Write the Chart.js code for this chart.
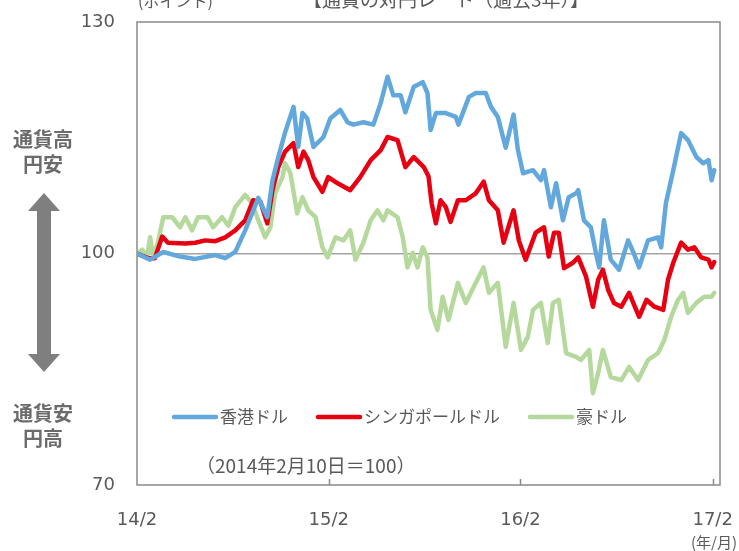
<!DOCTYPE html>
<html>
<head>
<meta charset="utf-8">
<script src="https://cdn.jsdelivr.net/npm/chart.js@4.4.0/dist/chart.umd.min.js"></script>
<style>
  html, body { margin: 0; padding: 0; background: #fff; }
</style>
</head>
<body>
<canvas id="fxChart" width="739" height="551"></canvas>
<script>
// days since 2014-02-10 and index values (2014/2/10 = 100)
const seriesNames = ['香港ドル', 'シンガポールドル', '豪ドル'];
const xTickDays = [0, 365, 730, 1096];
const xTickLabels = ['14/2', '15/2', '16/2', '17/2'];
const yTicks = [70, 100, 130];

const hkdDays = [0, 25, 50, 82, 111, 149, 168, 187, 206, 231, 248, 258, 269, 282, 298, 307, 315, 324, 336, 355, 368, 387, 401, 412, 431, 450, 464, 477, 488, 502, 511, 527, 544, 553, 559, 569, 588, 607, 612, 632, 645, 664, 674, 687, 702, 717, 725, 735, 754, 769, 775, 788, 798, 811, 822, 836, 840, 851, 864, 874, 880, 889, 902, 918, 935, 946, 956, 973, 992, 998, 1007, 1021, 1036, 1049, 1065, 1078, 1088, 1094, 1099];
const hkdValues = [100, 99.2, 100.2, 99.6, 99.3, 99.8, 99.4, 100.2, 103, 107.2, 104.7, 109.5, 112.5, 115.7, 119, 113.8, 118.2, 117.5, 113.8, 115.1, 117.5, 118.6, 117, 116.7, 117, 116.7, 119.5, 122.9, 120.5, 120.5, 118.3, 121.6, 122.2, 120.8, 116, 118.2, 118.2, 117.7, 116.7, 120.3, 120.8, 120.8, 119, 117.7, 113.7, 118, 113.5, 110.4, 110.8, 109.5, 110.8, 106, 109.1, 104.3, 107.3, 107.8, 108.2, 104.3, 103.4, 100, 98.2, 104.3, 99.2, 97.9, 101.7, 100, 98.2, 101.7, 102.1, 100.8, 106.5, 110.8, 115.6, 114.7, 112.5, 111.7, 112.1, 109.5, 110.8];

const sgdDays = [0, 21, 34, 48, 59, 92, 111, 130, 149, 168, 187, 206, 221, 235, 248, 258, 269, 282, 298, 307, 317, 326, 336, 353, 364, 382, 406, 425, 445, 464, 477, 496, 511, 527, 546, 555, 561, 569, 578, 588, 597, 611, 626, 645, 660, 670, 687, 698, 717, 727, 740, 759, 775, 784, 794, 803, 813, 830, 840, 855, 868, 878, 887, 897, 908, 922, 937, 956, 970, 985, 1002, 1011, 1021, 1036, 1049, 1061, 1074, 1088, 1094, 1099];
const sgdValues = [100, 99.4, 99.4, 102.2, 101.4, 101.3, 101.4, 101.7, 101.6, 102.1, 103, 104.3, 106.9, 106.7, 103.9, 108.2, 111.2, 113.2, 114.3, 111.2, 113.2, 112.1, 109.9, 108, 109.9, 109.1, 108.2, 109.9, 112.1, 113.4, 115.1, 114.7, 111.2, 112.5, 111.2, 110, 106.5, 103.9, 106.9, 106, 104.1, 106.9, 106.9, 107.8, 109.3, 106.9, 105.6, 101.4, 105.6, 101.7, 99.2, 102.7, 103.4, 99.6, 102.7, 102.7, 98.1, 98.8, 99.5, 97, 93.1, 96.6, 97.9, 95.3, 93.6, 93.1, 94.9, 91.8, 94, 93.1, 92.7, 96.6, 98.8, 101.4, 100.5, 100.8, 99.5, 99.2, 98.2, 98.9];

const audDays = [0, 10, 19, 25, 31, 40, 50, 67, 82, 92, 105, 116, 134, 145, 162, 174, 187, 206, 219, 231, 244, 254, 263, 277, 282, 292, 305, 315, 326, 340, 353, 363, 378, 393, 406, 416, 431, 445, 458, 469, 477, 496, 506, 515, 525, 534, 544, 553, 559, 572, 582, 593, 611, 626, 645, 660, 670, 687, 702, 717, 731, 744, 754, 769, 782, 792, 803, 817, 836, 845, 861, 868, 878, 887, 902, 922, 937, 954, 973, 992, 1004, 1017, 1030, 1040, 1049, 1065, 1080, 1094, 1099];
const audValues = [100, 100.5, 99.5, 102.1, 99.5, 101.5, 104.7, 104.7, 103.4, 104.7, 103, 104.7, 104.7, 103.4, 104.7, 103.6, 106, 107.6, 106.5, 104.3, 102.1, 103.4, 107.8, 109.9, 111.7, 110.4, 105.2, 107.3, 105.6, 104.7, 100.8, 99.5, 102.1, 101.7, 103, 99.2, 101.4, 104.3, 105.6, 104.3, 105.6, 104.7, 102.1, 98.2, 100.1, 98.2, 100.8, 99.5, 92.7, 90.1, 94.4, 91.4, 96.2, 93.6, 96.2, 98.2, 94.9, 96.2, 87.9, 93.6, 87.5, 89.2, 92.7, 93.6, 88.4, 93.6, 94, 87.1, 86.6, 86.2, 87.5, 81.9, 84.5, 87.5, 84, 83.6, 85.3, 83.6, 86.2, 87.1, 88.8, 91.8, 94, 94.9, 92.3, 93.6, 94.4, 94.4, 94.9];

const seriesColors = ['#63a8dc', '#e60012', '#b5d99c'];
const textGray = '#595959';
const jpFont = '"Noto Sans CJK JP", "DejaVu Sans", sans-serif';
const numFont = '"DejaVu Sans", "Noto Sans CJK JP", sans-serif';

function toPoints(days, vals) {
  return days.map((d, i) => ({ x: d, y: vals[i] }));
}

function lineSet(i, days, vals) {
  return {
    label: seriesNames[i],
    data: toPoints(days, vals),
    borderColor: seriesColors[i],
    backgroundColor: seriesColors[i],
    borderWidth: 4.5,
    borderJoinStyle: 'round',
    borderCapStyle: 'round',
    pointRadius: 0,
    tension: 0,
    fill: false
  };
}

// keep tick labels from widening the layout
function noEdgePadding(s) {
  s.paddingTop = 0;
  s.paddingBottom = 0;
  s.paddingLeft = 0;
  s.paddingRight = 0;
}

// frame, tick marks, notes and legend drawn on top of the chart area
const decorPlugin = {
  id: 'decor',
  beforeDatasetsDraw(chart) {
    const { ctx, chartArea: a, scales } = chart;
    ctx.save();
    ctx.strokeStyle = '#8a8a8a';
    ctx.lineWidth = 1.5;
    ctx.strokeRect(a.left, a.top, a.right - a.left, a.bottom - a.top);
    xTickDays.slice(1).forEach(d => {
      const px = Math.round(scales.x.getPixelForValue(d)) + 0.5;
      ctx.beginPath();
      ctx.moveTo(px, a.bottom);
      ctx.lineTo(px, a.bottom - 6);
      ctx.stroke();
    });
    ctx.restore();
  },
  afterDraw(chart) {
    const { ctx } = chart;
    ctx.save();
    ctx.fillStyle = textGray;

    // cut-off title and unit at the top
    ctx.textBaseline = 'alphabetic';
    ctx.font = '19px ' + jpFont;
    ctx.textAlign = 'center';
    ctx.fillText('【通貨の対円レート（過去3年）】', 446, 7);
    ctx.font = '16px ' + jpFont;
    ctx.textAlign = 'left';
    ctx.fillText('(ポイント)', 138, 7);

    // base note and unit
    ctx.textBaseline = 'middle';
    ctx.font = '19px ' + jpFont;
    ctx.fillText('（2014年2月10日＝100）', 196, 466);
    ctx.font = '15px ' + jpFont;
    ctx.textAlign = 'right';
    ctx.fillText('(年/月)', 737, 542);

    // left side labels and arrow
    ctx.fillStyle = '#6b6b6b';
    ctx.font = 'bold 20px ' + jpFont;
    ctx.textAlign = 'center';
    ctx.fillText('通貨高', 43, 139);
    ctx.fillText('円安', 43, 164);
    ctx.fillText('通貨安', 43, 413);
    ctx.fillText('円高', 43, 438);

    ctx.fillStyle = '#7f7f7f';
    const cx = 44, top = 193, bot = 372, head = 18, hw = 16, sw = 7;
    ctx.beginPath();
    ctx.moveTo(cx, top);
    ctx.lineTo(cx + hw, top + head);
    ctx.lineTo(cx + sw, top + head);
    ctx.lineTo(cx + sw, bot - head);
    ctx.lineTo(cx + hw, bot - head);
    ctx.lineTo(cx, bot);
    ctx.lineTo(cx - hw, bot - head);
    ctx.lineTo(cx - sw, bot - head);
    ctx.lineTo(cx - sw, top + head);
    ctx.lineTo(cx - hw, top + head);
    ctx.closePath();
    ctx.fill();

    // legend inside plot
    ctx.font = '17px ' + jpFont;
    ctx.textAlign = 'left';
    ctx.textBaseline = 'middle';
    let lx = 174;
    const ly = 417;
    chart.data.datasets.forEach(ds => {
      ctx.strokeStyle = ds.borderColor;
      ctx.lineWidth = 4.5;
      ctx.lineCap = 'round';
      ctx.beginPath();
      ctx.moveTo(lx, ly);
      ctx.lineTo(lx + 42, ly);
      ctx.stroke();
      ctx.fillStyle = textGray;
      ctx.fillText(ds.label, lx + 46, ly);
      lx += 46 + ctx.measureText(ds.label).width + 30;
    });
    ctx.restore();
  }
};

const ctx = document.getElementById('fxChart').getContext('2d');
const fxChart = new Chart(ctx, {
  type: 'line',
  data: {
    datasets: [
      lineSet(0, hkdDays, hkdValues),
      lineSet(1, sgdDays, sgdValues),
      lineSet(2, audDays, audValues)
    ]
  },
  options: {
    responsive: false,
    animation: false,
    layout: { padding: { left: 0, right: 19, top: 22, bottom: 0 } },
    plugins: {
      legend: { display: false },
      tooltip: { enabled: false }
    },
    scales: {
      x: {
        type: 'linear',
        min: 0,
        max: 1110,
        afterBuildTicks: s => { s.ticks = xTickDays.map(v => ({ value: v })); },
        afterFit: s => { s.height = 66; noEdgePadding(s); },
        grid: { display: false, drawTicks: false },
        border: { display: false },
        ticks: {
          padding: 25,
          color: textGray,
          maxRotation: 0,
          autoSkip: false,
          font: { family: numFont, size: 18 },
          callback: (v, i) => xTickLabels[i]
        }
      },
      y: {
        min: 70,
        max: 130,
        afterBuildTicks: s => { s.ticks = yTicks.map(v => ({ value: v })); },
        afterFit: s => { s.width = 137; noEdgePadding(s); },
        grid: {
          drawTicks: false,
          lineWidth: 1.5,
          color: c => (c.tick && c.tick.value === 100 ? '#a3a3a3' : 'rgba(0,0,0,0)')
        },
        border: { display: false },
        ticks: {
          padding: 22,
          color: textGray,
          font: { family: numFont, size: 18 }
        }
      }
    }
  },
  plugins: [decorPlugin]
});
</script>
</body>
</html>
